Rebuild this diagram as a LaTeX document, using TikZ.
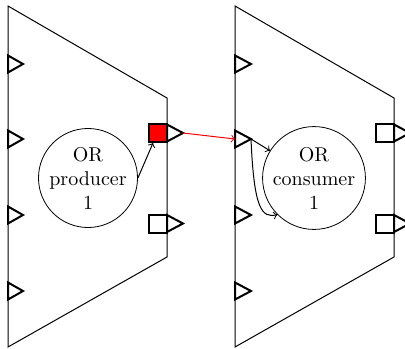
\documentclass[tikz,border=0pt]{standalone}
\usetikzlibrary{calc}
\begin{document}
\begin{tikzpicture}[x=0.5pt,y=-0.5pt,
  block/.style={draw,line width=0.5pt},
  port/.style={draw,line width=1pt,line join=miter},
  outsq/.style={draw,line width=1pt,minimum size=9pt,inner sep=0pt},
  proc/.style={draw,circle,minimum size=46pt,inner sep=0pt,align=center,font=\normalsize},
  conn/.style={->,line width=0.5pt}]
\useasboundingbox (0,0) rectangle (405,348);
% producer block
\draw[block] (8,6) -- (167,98) -- (167,257) -- (8,347) -- cycle;
\foreach \y/\n in {64/1,139/2,215/3,291/4}{
  \draw[port] (8,\y-8.5) -- (23,\y) -- (8,\y+8.5) -- cycle;
  \coordinate (pi\n) at (23,\y);
}
\node[outsq,fill=red] (po1sq) at (158,133) {};
\draw[port] (167,124.5) -- (183,133) -- (167,141.5) -- cycle;
\coordinate (po1) at (183,133);
\node[outsq] (po2sq) at (158,223.5) {};
\draw[port] (167,215) -- (183,223.5) -- (167,232) -- cycle;
\node[proc] (prod) at (88,178) {OR\\producer\\1};
% consumer block
\draw[block] (235,6) -- (394,98) -- (394,257) -- (235,347) -- cycle;
\foreach \y/\n in {64/1,139/2,215/3,291/4}{
  \draw[port] (235,\y-8.5) -- (251,\y) -- (235,\y+8.5) -- cycle;
  \coordinate (ci\n) at (251,\y);
  \coordinate (cb\n) at (235,\y);
}
\node[outsq] (co1sq) at (385,133) {};
\draw[port] (394,124.5) -- (410,133) -- (394,141.5) -- cycle;
\node[outsq] (co2sq) at (385,223.5) {};
\draw[port] (394,215) -- (410,223.5) -- (394,232) -- cycle;
\node[proc,minimum size=49pt] (cons) at (314,178) {OR\\consumer\\1};
% connectors
\coordinate (po1in) at (153,143);
\draw[conn] (prod.east) -- (po1in);
\draw[conn,red] (po1) -- (cb2);
\draw[conn] (ci2) -- (cons);
\draw[conn] (ci2) .. controls (254,210) and (262,218) .. (cons.225);
\end{tikzpicture}
\end{document}
